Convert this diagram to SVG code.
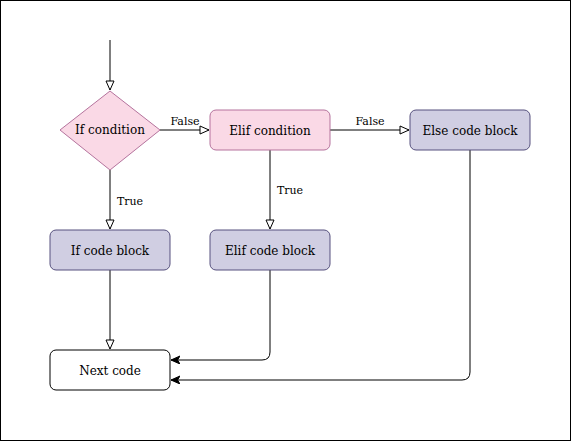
<svg xmlns="http://www.w3.org/2000/svg" width="571" height="441" viewBox="0 0 571 441">
<defs>
<style>
.cond{fill:#fad9e6;stroke:#b5739d;stroke-width:1}
.blk{fill:#d0cee2;stroke:#56517e;stroke-width:1}
.plain{fill:#ffffff;stroke:#000000;stroke-width:1}
.t{font-family:"DejaVu Serif",serif;font-size:12px;fill:#000;text-anchor:middle;dominant-baseline:central}
.lbl{font-family:"DejaVu Serif",serif;font-size:11px;fill:#000;text-anchor:middle}
.e{fill:none;stroke:#000;stroke-width:1}
</style>
<marker id="open" markerWidth="12" markerHeight="10" refX="10" refY="5" orient="auto" markerUnits="userSpaceOnUse">
<path d="M1,1 L10,5 L1,9 Z" fill="#fff" stroke="#000" stroke-width="1"/>
</marker>
<marker id="solid" markerWidth="12" markerHeight="10" refX="9" refY="4" orient="auto" markerUnits="userSpaceOnUse">
<path d="M0,0 L9,4 L0,8 L2.5,4 Z" fill="#000" stroke="#000" stroke-width="1"/>
</marker>
</defs>
<rect x="0.5" y="0.5" width="570" height="440" fill="#ffffff" stroke="#000000" stroke-width="1"/>
<g id="connectors">
<path class="e" d="M110,40 L110,90" marker-end="url(#open)"/>
<path class="e" d="M160,130 L209,130" marker-end="url(#open)"/>
<path class="e" d="M330,130 L409,130" marker-end="url(#open)"/>
<path class="e" d="M110,170 L110,229" marker-end="url(#open)"/>
<path class="e" d="M270,150 L270,229" marker-end="url(#open)"/>
<path class="e" d="M110,270 L110,349" marker-end="url(#open)"/>
<path class="e" d="M270,270 L270,352 Q270,360 262,360 L171,360" marker-end="url(#solid)"/>
<path class="e" d="M470,150 L470,372 Q470,380 462,380 L171,380" marker-end="url(#solid)"/>
<text class="lbl" x="185" y="125">False</text>
<text class="lbl" x="370" y="125">False</text>
<text class="lbl" x="130" y="205">True</text>
<text class="lbl" x="290" y="194">True</text>
</g>
<g id="if-condition">
<path class="cond" d="M110,91 L160,130 L110,170 L60,130 Z"/>
<text class="t" x="110" y="129.5">If condition</text>
</g>
<g id="elif-condition">
<rect class="cond" x="210" y="110" width="120" height="40" rx="6"/>
<text class="t" x="270" y="131">Elif condition</text>
</g>
<g id="else-block">
<rect class="blk" x="410" y="110" width="120" height="40" rx="6"/>
<text class="t" x="470" y="131">Else code block</text>
</g>
<g id="if-block">
<rect class="blk" x="50" y="230" width="120" height="40" rx="6"/>
<text class="t" x="110" y="251">If code block</text>
</g>
<g id="elif-block">
<rect class="blk" x="210" y="230" width="120" height="40" rx="6"/>
<text class="t" x="270" y="251">Elif code block</text>
</g>
<g id="next-code">
<rect class="plain" x="50" y="350" width="120" height="40" rx="6"/>
<text class="t" x="110" y="371">Next code</text>
</g>
</svg>
